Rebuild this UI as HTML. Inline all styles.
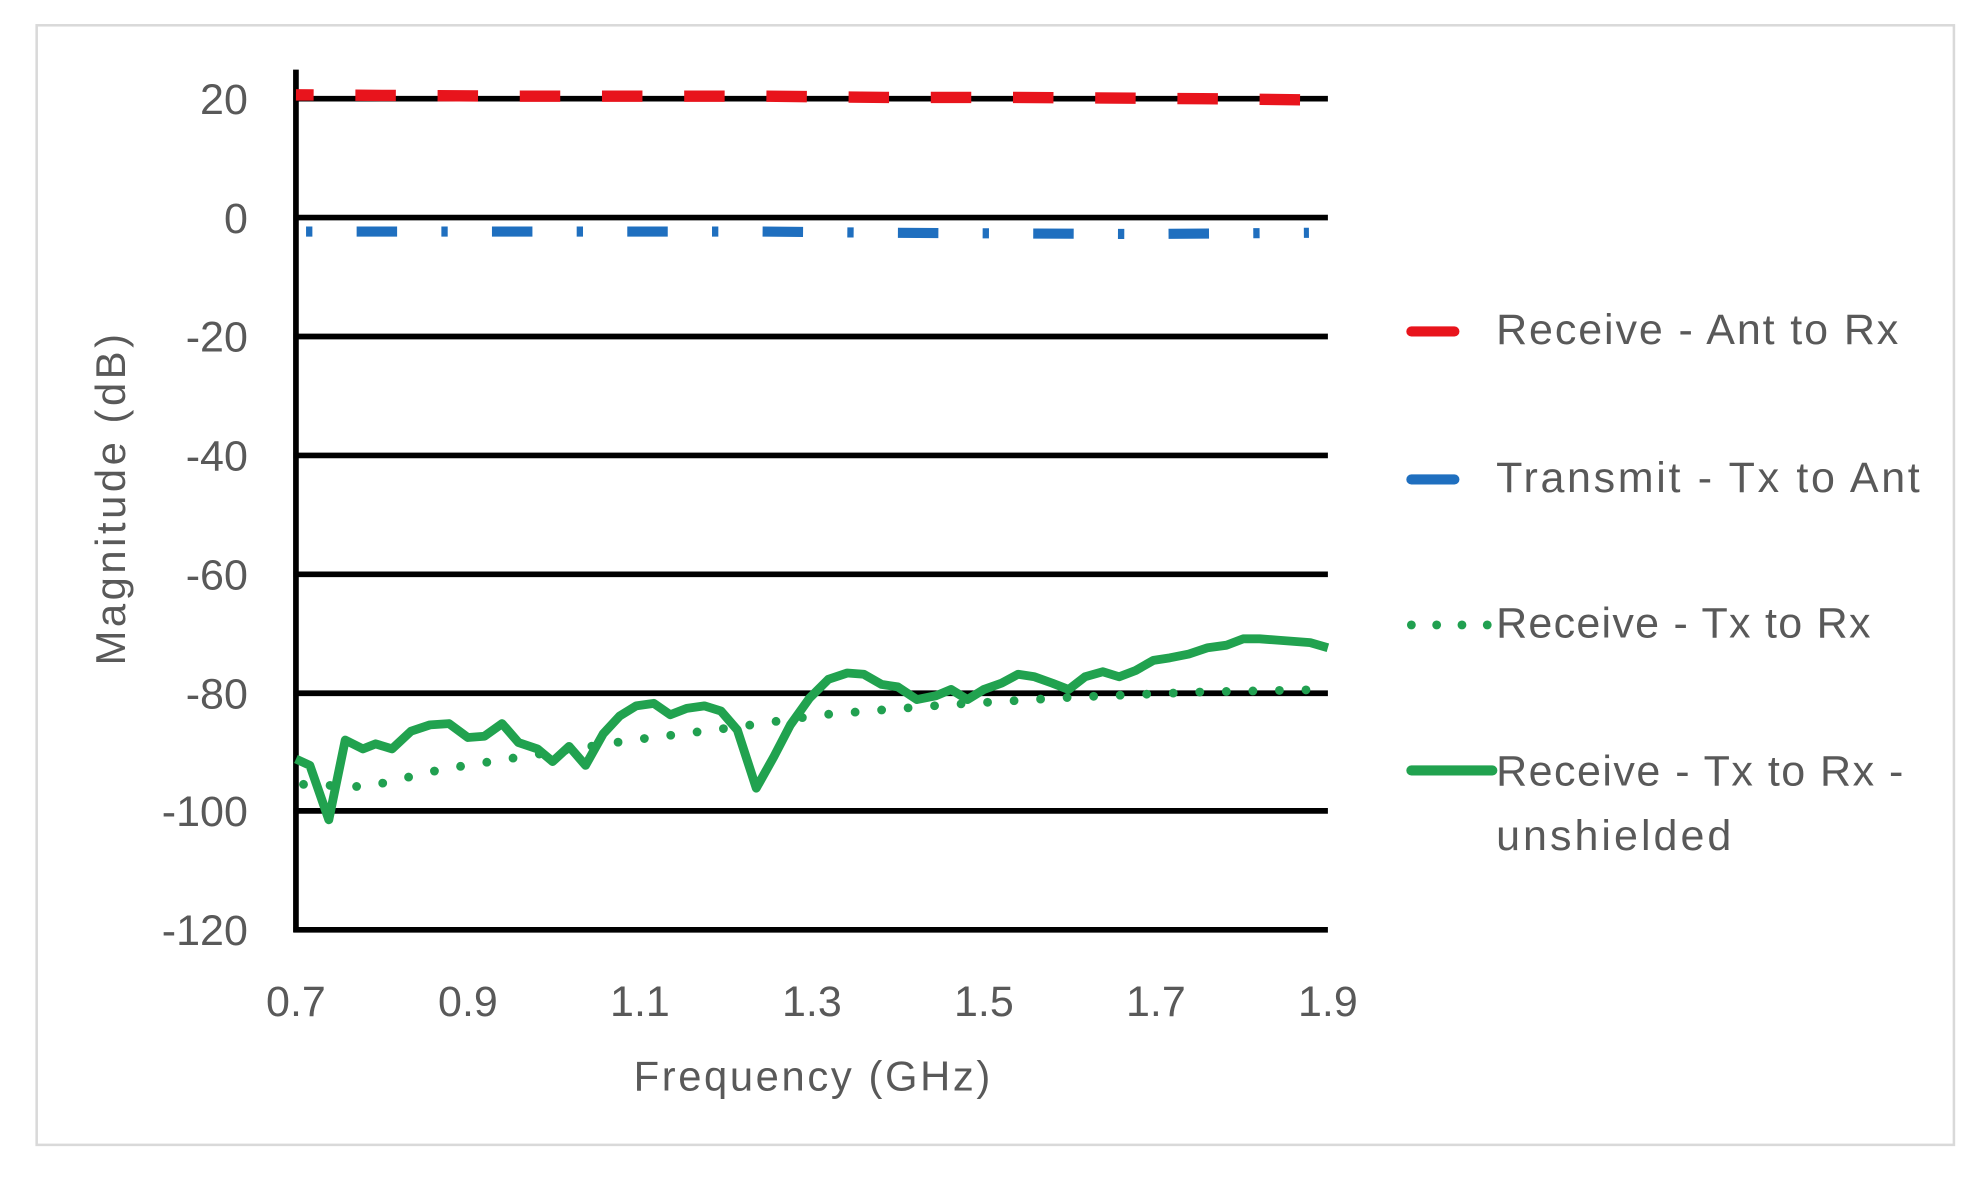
<!DOCTYPE html>
<html><head><meta charset="utf-8"><style>html,body{margin:0;padding:0;background:#fff}svg{display:block}</style></head>
<body>
<svg width="1983" height="1198" viewBox="0 0 1568 947" preserveAspectRatio="none" xmlns="http://www.w3.org/2000/svg" font-family="Liberation Sans, sans-serif" fill="#595959">
<rect x="0" y="0" width="1568" height="947" fill="#fff"/>
<rect x="29" y="20" width="1516" height="885" fill="none" stroke="#d9d9d9" stroke-width="2"/>
<g stroke="#000" stroke-width="4.5">
<line x1="232" y1="78" x2="1050" y2="78"/>
<line x1="232" y1="172" x2="1050" y2="172"/>
<line x1="232" y1="266" x2="1050" y2="266"/>
<line x1="232" y1="360" x2="1050" y2="360"/>
<line x1="232" y1="454" x2="1050" y2="454"/>
<line x1="232" y1="548" x2="1050" y2="548"/>
<line x1="232" y1="641" x2="1050" y2="641"/>
<line x1="232" y1="735" x2="1050" y2="735"/>
<line x1="234" y1="55" x2="234" y2="737"/>
</g>
<g font-size="34" text-anchor="end">
<text x="196" y="90">20</text><text x="196" y="184">0</text><text x="196" y="278">-20</text>
<text x="196" y="372">-40</text><text x="196" y="466">-60</text><text x="196" y="560">-80</text>
<text x="196" y="653">-100</text><text x="196" y="747">-120</text>
</g>
<g font-size="34" text-anchor="middle">
<text x="234" y="803">0.7</text><text x="370" y="803">0.9</text><text x="506" y="803">1.1</text>
<text x="642" y="803">1.3</text><text x="778" y="803">1.5</text><text x="914" y="803">1.7</text><text x="1050" y="803">1.9</text>
</g>
<text x="642" y="862" font-size="33" text-anchor="middle" textLength="282">Frequency (GHz)</text>
<text transform="translate(99,395) rotate(-90)" font-size="33" text-anchor="middle" textLength="262">Magnitude (dB)</text>
<path d="M234,75 L400,76 L600,76 L700,77 L800,77 L950,78 L1040,79" stroke="#e8141c" stroke-width="9" fill="none" stroke-dasharray="32 33" stroke-dashoffset="18"/>
<path d="M242,183 L600,183 L700,184 L900,185 L1035,184" stroke="#1f6fbf" stroke-width="8" fill="none" stroke-dasharray="5 35 32 35" stroke-dashoffset="0"/>
<path d="M240,620 L290,622 L350,608 L420,597 L500,585 L580,575 L650,565 L750,557 L850,551 L950,547 L1050,545" stroke="#21a050" stroke-width="7" fill="none" stroke-dasharray="0 21" stroke-linecap="round"/>
<polyline fill="none" stroke="#21a24f" stroke-width="7" stroke-linejoin="round" points="234,600 245,605 260,648 273,585 287,592 297,588 310,592 325,578 340,573 355,572 370,583 383,582 397,572 410,587 425,592 437,602 450,590 463,605 477,580 490,566 503,558 517,556 530,565 543,560 557,558 570,562 583,577 598,623 612,598 625,573 640,552 655,537 670,532 683,533 697,541 710,543 725,553 740,550 752,545 765,553 778,545 792,540 805,533 818,535 832,540 845,545 858,535 872,531 885,535 898,530 912,522 925,520 940,517 955,512 970,510 983,505 996,505 1010,506 1023,507 1036,508 1050,512"/>
<line x1="1116" y1="262" x2="1150" y2="262" stroke="#e8141c" stroke-width="8" stroke-linecap="round"/>
<line x1="1116" y1="379" x2="1150" y2="379" stroke="#1f6fbf" stroke-width="8" stroke-linecap="round"/>
<path d="M1116,494 L1180,494" stroke="#21a050" stroke-width="7" stroke-dasharray="0 20" stroke-linecap="round"/>
<line x1="1116" y1="609" x2="1180" y2="609" stroke="#21a24f" stroke-width="8" stroke-linecap="round"/>
<g font-size="34">
<text x="1183" y="272" textLength="318">Receive - Ant to Rx</text>
<text x="1183" y="389" textLength="335">Transmit - Tx to Ant</text>
<text x="1183" y="504" textLength="296">Receive - Tx to Rx</text>
<text x="1183" y="621" textLength="322">Receive - Tx to Rx -</text>
<text x="1183" y="672" textLength="186">unshielded</text>
</g>
</svg>
</body></html>
